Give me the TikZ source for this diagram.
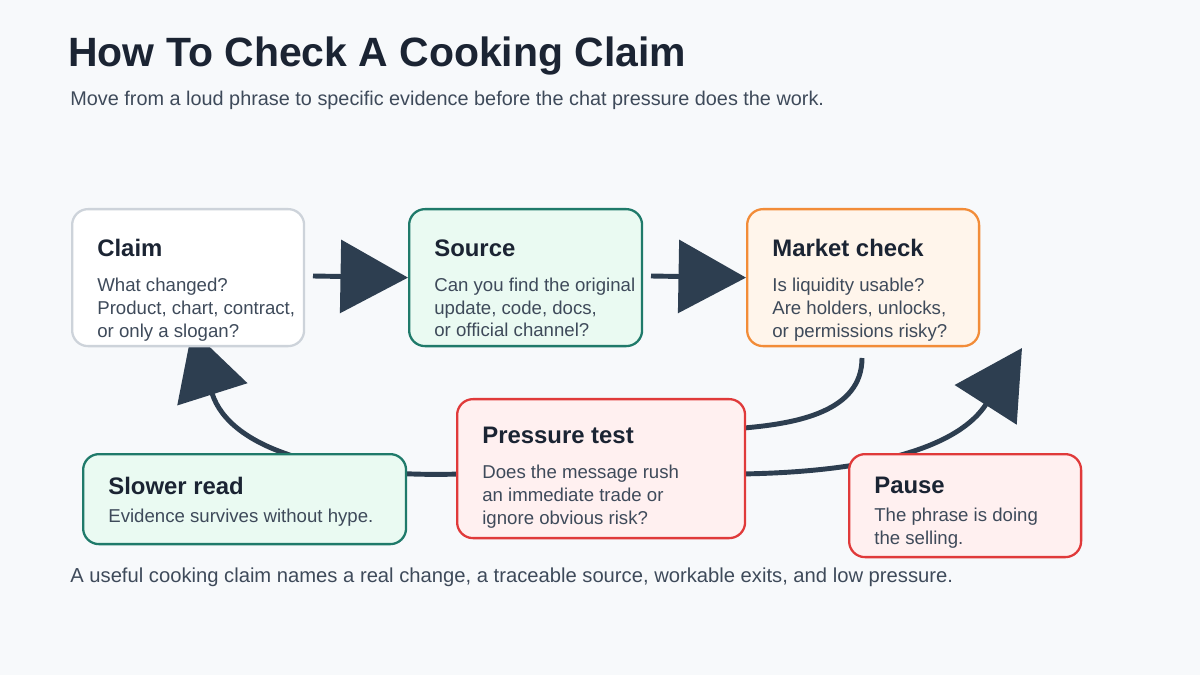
\documentclass[tikz,border=0pt]{standalone}
\usepackage{fontspec}
\setmainfont{Liberation Sans}
\usetikzlibrary{arrows.meta}
\definecolor{bgc}{HTML}{F7F9FB}
\definecolor{ink}{HTML}{1B2433}
\definecolor{sub}{HTML}{3E4A5A}
\definecolor{navy}{HTML}{2D3E50}
\definecolor{greyb}{HTML}{CDD3DA}
\definecolor{teal}{HTML}{1F7A6A}
\definecolor{tealf}{HTML}{EAFAF2}
\definecolor{orng}{HTML}{F28C38}
\definecolor{orngf}{HTML}{FFF5EB}
\definecolor{redb}{HTML}{E03A3A}
\definecolor{redf}{HTML}{FFF0F0}
\tikzset{
  box/.style={draw, rounded corners=9pt, line width=1.3pt, anchor=north west, inner sep=0pt},
  txt/.style={anchor=north west, align=left, inner sep=0pt, text=sub, font=\fontsize{10.6}{13}\selectfont},
  flow/.style={navy, line width=2.8pt},
  big/.style={-{Triangle[width=1.45cm,length=1.35cm]}}
}
\newcommand{\hd}[2][7pt]{{\color{ink}\fontsize{13.6}{14}\selectfont\bfseries #2}\\[#1]}
\begin{document}
\begin{tikzpicture}[x=0.02cm,y=-0.02cm]
  \fill[bgc] (0,0) rectangle (1200,675);
  \node[anchor=west, inner sep=0pt, text=ink, font=\fontsize{23.3}{26}\selectfont\bfseries] (title) at (68,56) {How To Check A Cooking Claim};
  \node[anchor=west, inner sep=0pt, text=sub, font=\fontsize{11.3}{13}\selectfont] (subt) at (70,100) {Move from a loud phrase to specific evidence before the chat pressure does the work.};
  % connectors under the boxes
  \coordinate (cb) at (192,330);
  \coordinate (mb) at (1022,348);
  \draw[flow] (862,358) to[out=-90,in=5] (744,428);
  \draw[flow, big] (460,474) .. controls (330,478) and (230,450) .. (cb);
  \draw[flow, big] (740,474) .. controls (880,472) and (960,445) .. (mb);
  % boxes
  \node[box, draw=greyb, fill=white, minimum width=4.64cm, minimum height=2.74cm] (claim) at (71,208) {};
  \node[box, draw=teal, fill=tealf, minimum width=4.66cm, minimum height=2.74cm] (source) at (408,208) {};
  \node[box, draw=orng, fill=orngf, minimum width=4.64cm, minimum height=2.74cm] (market) at (746,208) {};
  \node[box, draw=redb, fill=redf, minimum width=5.76cm, minimum height=2.78cm] (press) at (456,398) {};
  \node[box, draw=teal, fill=tealf, minimum width=6.46cm, minimum height=1.8cm] (slow) at (82,453) {};
  \node[box, draw=redb, fill=redf, minimum width=4.64cm, minimum height=2.06cm] (pause) at (848,453) {};
  \draw[flow, big] (313,276) -- (source.west);
  \draw[flow, big] (651,276) -- (market.west);
  % texts
  \node[txt] (claimt) at (97,239) {\hd{Claim}What changed?\\Product, chart, contract,\\or only a slogan?};
  \node[txt] (sourcet) at (434,239) {\hd{Source}Can you find the original\\update, code, docs,\\or official channel?};
  \node[txt] (markett) at (772,239) {\hd{Market check}Is liquidity usable?\\Are holders, unlocks,\\or permissions risky?};
  \node[txt] (presst) at (482,427) {\hd{Pressure test}Does the message rush\\an immediate trade or\\ignore obvious risk?};
  \node[txt] (slowt) at (108,477) {\hd[3pt]{Slower read}Evidence survives without hype.};
  \node[txt] (pauset) at (874,477) {\hd[3pt]{Pause}The phrase is doing\\the selling.};
  \node[anchor=west, inner sep=0pt, text=sub, font=\fontsize{11.5}{13}\selectfont] (foot) at (70,577) {A useful cooking claim names a real change, a traceable source, workable exits, and low pressure.};
\end{tikzpicture}
\end{document}
